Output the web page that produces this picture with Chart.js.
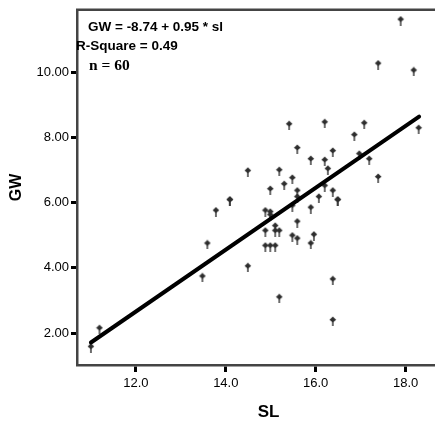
<!DOCTYPE html>
<html>
<head>
<meta charset="utf-8">
<script src="https://cdn.jsdelivr.net/npm/chart.js@4.4.1/dist/chart.umd.min.js"></script>
<style>
  html, body { margin: 0; padding: 0; overflow: hidden; background: #fff; }
  #wrap { width: 465px; height: 428px; }
</style>
</head>
<body>
<div id="wrap"><canvas id="myChart" width="465" height="428"></canvas></div>
<script>
const slValues = [
  11.00, 11.19, 13.48, 13.59, 13.78, 14.09, 14.09, 14.49, 14.49, 14.88,
  14.99, 14.99, 14.88, 15.10, 15.10, 15.19, 14.88, 14.99, 15.10, 14.99,
  15.19, 15.30, 15.48, 15.48, 15.48, 15.59, 15.59, 15.59, 15.59, 15.89,
  15.89, 15.96, 16.07, 16.20, 16.27, 16.38, 16.49, 16.49, 16.38, 16.38,
  15.19, 15.89, 16.20, 17.19, 17.39, 17.89, 17.39, 18.18, 15.41, 16.20,
  17.08, 16.86, 18.29, 15.59, 16.38, 16.97
];
const gwValues = [
  1.55, 2.12, 3.71, 4.72, 5.73, 6.06, 6.06, 6.95, 4.02, 5.73,
  5.69, 5.60, 5.11, 5.26, 5.11, 5.11, 4.65, 4.65, 4.65, 6.39,
  6.97, 6.54, 6.73, 5.88, 4.96, 6.34, 6.15, 5.39, 4.87, 5.82,
  4.72, 4.99, 6.15, 6.49, 7.01, 6.34, 6.06, 6.06, 3.62, 2.37,
  3.07, 7.31, 7.28, 7.31, 6.76, 11.59, 10.24, 10.03, 8.38, 8.44,
  8.41, 8.05, 8.26, 7.65, 7.56, 7.47
];

// fitted line GW = -8.74 + 0.95 * sl
const fitIntercept = -8.74;
const fitSlope = 0.95;
const fitRange = [11.0, 18.3];

const xTicks = [12, 14, 16, 18];
const yTicks = [2, 4, 6, 8, 10];

const points = slValues.map(function (v, i) {
  return { x: v, y: gwValues[i] };
});
const fitLine = fitRange.map(function (v) {
  return { x: v, y: fitIntercept + fitSlope * v };
});

// little spade-like marker
const marker = document.createElement("canvas");
marker.width = 8;
marker.height = 10;
const mctx = marker.getContext("2d");
mctx.fillStyle = "#2e2e2e";
mctx.beginPath();
mctx.moveTo(4, 0.5);
mctx.lineTo(7.3, 3.8);
mctx.lineTo(4, 6.5);
mctx.lineTo(0.7, 3.8);
mctx.closePath();
mctx.fill();
mctx.fillRect(3.3, 3, 1.4, 7);

const frameColor = "#444444";

const extras = {
  id: "extras",
  afterDraw: function (chart) {
    const c = chart.ctx;
    const a = chart.chartArea;
    c.save();
    c.strokeStyle = frameColor;
    c.lineWidth = 2.5;
    c.beginPath();
    c.moveTo(a.left - 1, a.top);
    c.lineTo(a.right, a.top);
    c.stroke();

    c.fillStyle = "#000";
    c.textBaseline = "alphabetic";
    c.textAlign = "left";
    c.font = "bold 13.5px 'Liberation Sans', Arial, sans-serif";
    c.fillText("GW = -8.74 + 0.95 * sl", 88, 30.5);
    c.fillText("R-Square = 0.49", 76, 49.5);
    c.font = "bold 15.5px 'Liberation Serif', 'Times New Roman', serif";
    c.fillText("n = 60", 89, 70);
    c.restore();
  },
};

const ctx = document.getElementById("myChart");

new Chart(ctx, {
  type: "scatter",
  data: {
    datasets: [
      {
        type: "line",
        data: fitLine,
        borderColor: "#000",
        borderWidth: 4,
        pointRadius: 0,
        fill: false,
        borderCapStyle: "round",
      },
      {
        data: points,
        pointStyle: marker,
        pointRadius: 4,
      },
    ],
  },
  options: {
    responsive: false,
    animation: false,
    layout: { padding: { top: 8, right: 0, bottom: 0, left: 0 } },
    plugins: {
      legend: { display: false },
      tooltip: { enabled: false },
    },
    scales: {
      x: {
        type: "linear",
        min: 10.69,
        max: 19.21,
        afterFit: function (scale) {
          scale.height = 63;
        },
        afterBuildTicks: function (scale) {
          scale.ticks = xTicks.map(function (v) {
            return { value: v };
          });
        },
        ticks: {
          color: "#000",
          padding: 4,
          font: { family: "'Liberation Sans', Arial, sans-serif", size: 13 },
          callback: function (v) {
            return Number(v).toFixed(1);
          },
        },
        grid: {
          drawOnChartArea: false,
          tickLength: 7,
          tickWidth: 3,
          tickColor: "#000",
        },
        border: { display: true, color: frameColor, width: 2.5 },
        title: {
          display: true,
          text: "SL",
          color: "#000",
          font: { family: "'Liberation Sans', Arial, sans-serif", size: 17, weight: "bold" },
          padding: { top: 0, bottom: 5 },
        },
      },
      y: {
        type: "linear",
        min: 1.02,
        max: 11.92,
        afterFit: function (scale) {
          scale.width = 77;
        },
        afterBuildTicks: function (scale) {
          scale.ticks = yTicks.map(function (v) {
            return { value: v };
          });
        },
        ticks: {
          color: "#000",
          padding: 2,
          font: { family: "'Liberation Sans', Arial, sans-serif", size: 13 },
          callback: function (v) {
            return Number(v).toFixed(2);
          },
        },
        grid: {
          drawOnChartArea: false,
          tickLength: 6,
          tickWidth: 3,
          tickColor: "#000",
        },
        border: { display: true, color: frameColor, width: 2.5 },
        title: {
          display: true,
          text: "GW",
          color: "#000",
          font: { family: "'Liberation Sans', Arial, sans-serif", size: 16, weight: "bold" },
          padding: { top: 7, bottom: 0 },
        },
      },
    },
  },
  plugins: [extras],
});
</script>
</body>
</html>
